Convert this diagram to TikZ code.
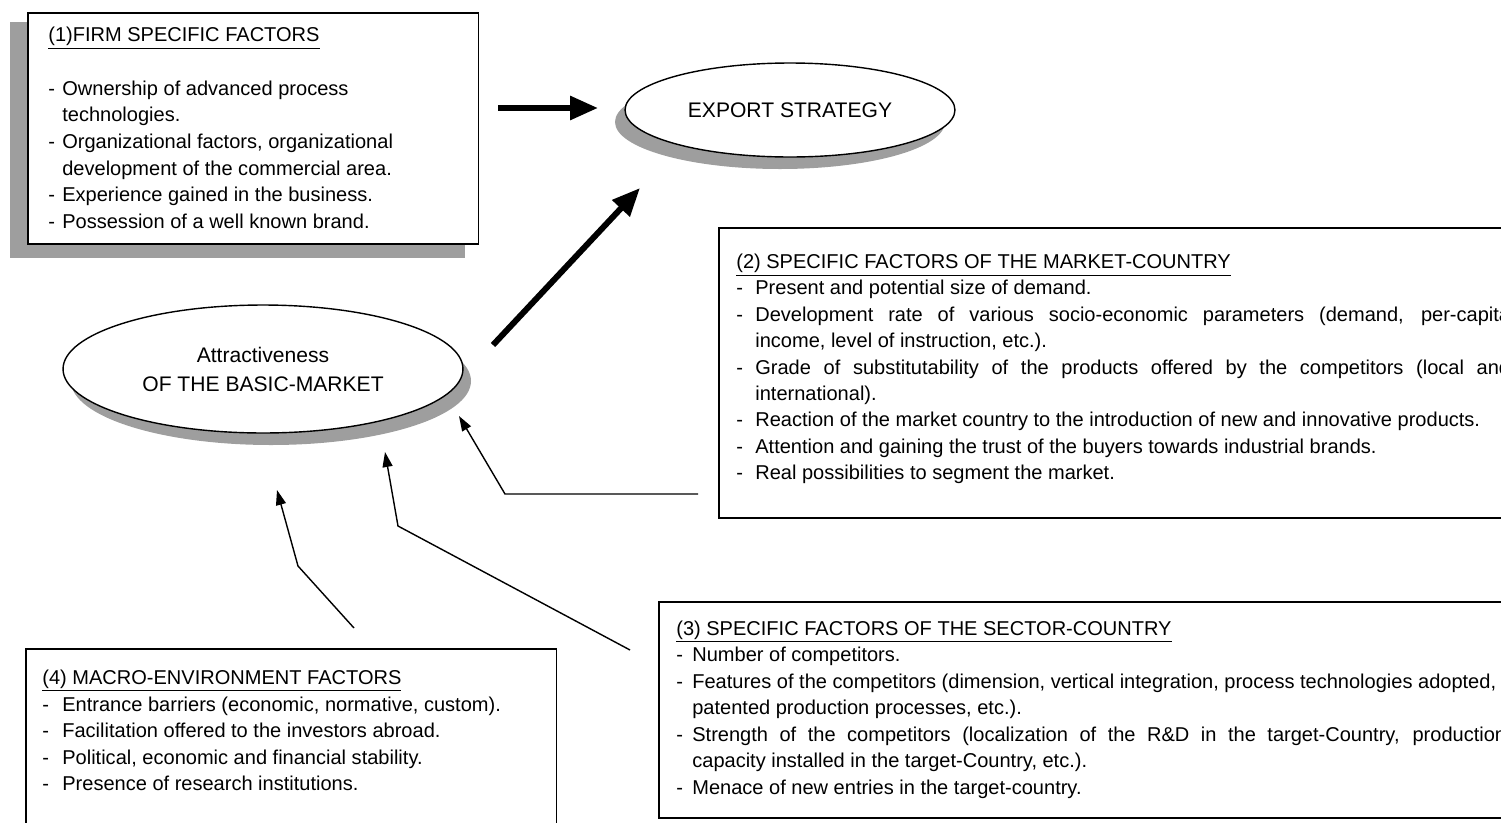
\documentclass[tikz,border=0pt]{standalone}
\usepackage{fontspec}
\setmainfont{Liberation Sans}
\usetikzlibrary{arrows.meta,shapes.geometric}
\newcommand{\boxfont}{\fontsize{11.4}{15}\selectfont}
\newcommand{\ovalfont}{\fontsize{12}{16.5}\selectfont}
\newcommand{\dsh}[1]{\makebox[#1][l]{-}}
\newcommand{\jline}[2]{\makebox[#1][s]{#2}}
\definecolor{speckle}{gray}{0.62}

\begin{document}
\begin{tikzpicture}[x=0.02cm,y=-0.02cm,
  txt/.style={anchor=base west,inner sep=0pt,font=\boxfont},
  factorbox/.style={draw,line width=0.9pt,fill=white,anchor=north west,inner sep=0pt},
  oval/.style={ellipse,draw,line width=0.8pt,fill=white,inner sep=0pt,align=center,font=\ovalfont},
  bigarrow/.style={line width=3.4pt,-{Triangle[length=0.56cm,width=0.46cm]}},
  thinarrow/.style={line width=0.8pt,-{Triangle[length=0.3cm,width=0.2cm]}}]
\useasboundingbox (0,0) rectangle (1501,822);
\clip (0,0) rectangle (1501,822);

% shadows
\fill[speckle] (10,22) rectangle (465,258);
\fill[speckle] (780,122) ellipse [x radius=165,y radius=47];
\fill[speckle] (271,381) ellipse [x radius=200,y radius=64];

% boxes
\node[factorbox,minimum width=9.02cm,minimum height=4.62cm] (firm) at (27,12) {};
\node[factorbox,minimum width=18cm,minimum height=5.8cm] (market) at (718,227) {};
\node[factorbox,minimum width=18cm,minimum height=4.32cm] (sector) at (658,601) {};
\node[factorbox,minimum width=10.62cm,minimum height=4.4cm] (macro) at (25,648) {};

% ovals
\node[oval,minimum width=6.6cm,minimum height=1.88cm] (export) at (790,110) {EXPORT STRATEGY};
\node[oval,minimum width=8cm,minimum height=2.56cm] (attract) at (263,369) {Attractiveness\\OF THE BASIC-MARKET};

% (1) firm
\node[txt] (f0) at (48,41.5) {\underline{(1)FIRM SPECIFIC FACTORS}};
\node[txt] (f1) at (48,95) {\dsh{0.28cm}Ownership of advanced process};
\node[txt] (f2) at (62,121.7) {technologies.};
\node[txt] (f3) at (48,148.3) {\dsh{0.28cm}Organizational factors, organizational};
\node[txt] (f4) at (62,175) {development of the commercial area.};
\node[txt] (f5) at (48,201.7) {\dsh{0.28cm}Experience gained in the business.};
\node[txt] (f6) at (48,228.3) {\dsh{0.28cm}Possession of a well known brand.};

% (2) market-country
\node[txt] (m0) at (736,268.5) {\underline{(2) SPECIFIC FACTORS OF THE MARKET-COUNTRY}};
\node[txt] (m1) at (736,294.9) {\dsh{0.38cm}Present and potential size of demand.};
\node[txt] (m2) at (736,321.3) {\dsh{0.38cm}\jline{15.1cm}{Development rate of various socio-economic parameters (demand, per-capita}};
\node[txt] (m3) at (755,347.7) {income, level of instruction, etc.).};
\node[txt] (m4) at (736,374.1) {\dsh{0.38cm}\jline{15.1cm}{Grade of substitutability of the products offered by the competitors (local and}};
\node[txt] (m5) at (755,400.5) {international).};
\node[txt] (m6) at (736,426.9) {\dsh{0.38cm}Reaction of the market country to the introduction of new and innovative products.};
\node[txt] (m7) at (736,453.3) {\dsh{0.38cm}Attention and gaining the trust of the buyers towards industrial brands.};
\node[txt] (m8) at (736,479.7) {\dsh{0.38cm}Real possibilities to segment the market.};

% (3) sector-country
\node[txt] (s0) at (676,635) {\underline{(3) SPECIFIC FACTORS OF THE SECTOR-COUNTRY}};
\node[txt] (s1) at (676,661.5) {\dsh{0.32cm}Number of competitors.};
\node[txt] (s2) at (676,688) {\dsh{0.32cm}Features of the competitors (dimension, vertical integration, process technologies adopted,};
\node[txt] (s3) at (692,714.5) {patented production processes, etc.).};
\node[txt] (s4) at (676,741) {\dsh{0.32cm}\jline{16.28cm}{Strength of the competitors (localization of the R\&D in the target-Country, production}};
\node[txt] (s5) at (692,767.5) {capacity installed in the target-Country, etc.).};
\node[txt] (s6) at (676,794) {\dsh{0.32cm}Menace of new entries in the target-country.};

% (4) macro-environment
\node[txt] (e0) at (42,684) {\underline{(4) MACRO-ENVIRONMENT FACTORS}};
\node[txt] (e1) at (42,711) {\dsh{0.4cm}Entrance barriers (economic, normative, custom).};
\node[txt] (e2) at (42,737) {\dsh{0.4cm}Facilitation offered to the investors abroad.};
\node[txt] (e3) at (42,764) {\dsh{0.4cm}Political, economic and financial stability.};
\node[txt] (e4) at (42,790) {\dsh{0.4cm}Presence of research institutions.};

% arrow ends
\coordinate (firmout) at (498,108);
\coordinate (exportin) at (598,108);
\coordinate (attrout) at (493,345);
\coordinate (exportin2) at (640,188);
\coordinate (mktout) at (698,494);
\coordinate (mktbend) at (505,494);
\coordinate (mktin) at (459,416);
\coordinate (secout) at (630,650);
\coordinate (secbend) at (398,526);
\coordinate (secin) at (385,452);
\coordinate (macout) at (354,628);
\coordinate (macbend) at (298,566);
\coordinate (macin) at (277,490);

\draw[bigarrow] (firmout) -- (exportin);
\draw[bigarrow] (attrout) -- (exportin2);
\draw[thinarrow] (mktout) -- (mktbend) -- (mktin);
\draw[thinarrow] (secout) -- (secbend) -- (secin);
\draw[thinarrow] (macout) -- (macbend) -- (macin);
\end{tikzpicture}
\end{document}
